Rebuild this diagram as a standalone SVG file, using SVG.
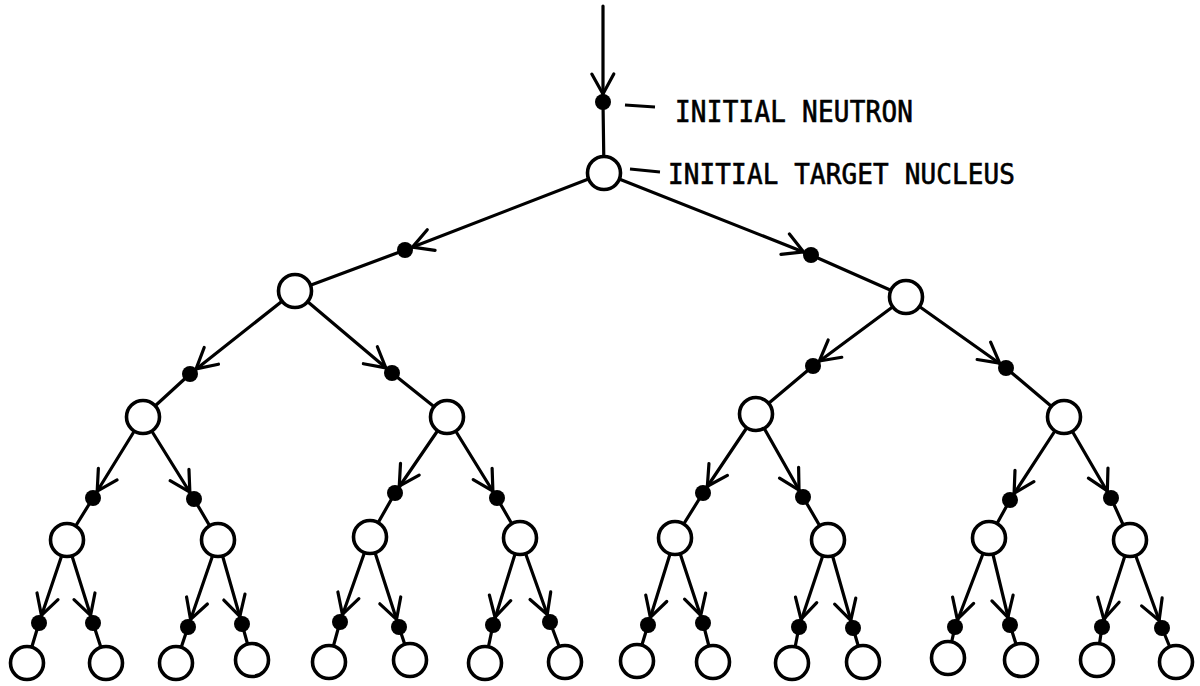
<svg xmlns="http://www.w3.org/2000/svg" width="1200" height="686" viewBox="0 0 1200 686">
<style>
.edge{fill:none;stroke:#000;stroke-width:3.2;stroke-linecap:round;stroke-linejoin:round}
.nuc{fill:#fff;stroke:#000;stroke-width:3.6}
.neu{fill:#000}
.lbl{font-family:"DejaVu Sans Mono","Liberation Mono",monospace;font-size:26px;fill:#000;stroke:#000;stroke-width:0.6}
.lead{fill:none;stroke:#000;stroke-width:2.8}
</style>
<defs>
<marker id="arr" markerUnits="userSpaceOnUse" markerWidth="40" markerHeight="40" viewBox="-30 -20 40 40" refX="8" refY="0" orient="auto" overflow="visible">
<path d="M-20,-11 L0,0 L-20,11" fill="none" stroke="#000" stroke-width="3.2" stroke-linecap="round" stroke-linejoin="round"/>
</marker>
</defs>
<g id="connectors">
<path class="edge" marker-mid="url(#arr)" d="M603,6 L603,102 L604,173"/>
<path class="edge" marker-mid="url(#arr)" d="M604,173 L405,250 L295,291"/>
<path class="edge" marker-mid="url(#arr)" d="M604,173 L811,255 L906,297"/>
<path class="edge" marker-mid="url(#arr)" d="M295,291 L190,374 L143,417"/>
<path class="edge" marker-mid="url(#arr)" d="M295,291 L392,373 L447,417"/>
<path class="edge" marker-mid="url(#arr)" d="M906,297 L813,366 L756,414"/>
<path class="edge" marker-mid="url(#arr)" d="M906,297 L1006,368 L1064,417"/>
<path class="edge" marker-mid="url(#arr)" d="M143,417 L93,498 L67,540"/>
<path class="edge" marker-mid="url(#arr)" d="M143,417 L194,499 L218,540"/>
<path class="edge" marker-mid="url(#arr)" d="M447,417 L395,493 L370,537"/>
<path class="edge" marker-mid="url(#arr)" d="M447,417 L497,498 L520,538"/>
<path class="edge" marker-mid="url(#arr)" d="M756,414 L703,493 L675,538"/>
<path class="edge" marker-mid="url(#arr)" d="M756,414 L803,497 L828,540"/>
<path class="edge" marker-mid="url(#arr)" d="M1064,417 L1010,500 L989,538"/>
<path class="edge" marker-mid="url(#arr)" d="M1064,417 L1111,498 L1130,540"/>
<path class="edge" marker-mid="url(#arr)" d="M67,540 L39,623 L27,663"/>
<path class="edge" marker-mid="url(#arr)" d="M67,540 L93,623 L106,663"/>
<path class="edge" marker-mid="url(#arr)" d="M218,540 L188,627 L176,663"/>
<path class="edge" marker-mid="url(#arr)" d="M218,540 L242,624 L252,660"/>
<path class="edge" marker-mid="url(#arr)" d="M370,537 L340,622 L329,662"/>
<path class="edge" marker-mid="url(#arr)" d="M370,537 L399,627 L410,660"/>
<path class="edge" marker-mid="url(#arr)" d="M520,538 L493,625 L485,663"/>
<path class="edge" marker-mid="url(#arr)" d="M520,538 L550,622 L565,662"/>
<path class="edge" marker-mid="url(#arr)" d="M675,538 L648,625 L637,661"/>
<path class="edge" marker-mid="url(#arr)" d="M675,538 L703,623 L713,662"/>
<path class="edge" marker-mid="url(#arr)" d="M828,540 L799,627 L792,663"/>
<path class="edge" marker-mid="url(#arr)" d="M828,540 L853,628 L863,662"/>
<path class="edge" marker-mid="url(#arr)" d="M989,538 L955,627 L948,658"/>
<path class="edge" marker-mid="url(#arr)" d="M989,538 L1010,625 L1021,660"/>
<path class="edge" marker-mid="url(#arr)" d="M1130,540 L1102,627 L1097,660"/>
<path class="edge" marker-mid="url(#arr)" d="M1130,540 L1162,628 L1176,662"/>
</g>
<g id="neutron-0"><circle class="neu" cx="603" cy="102" r="8"/></g>
<g id="neutron-1a"><circle class="neu" cx="405" cy="250" r="8"/></g>
<g id="neutron-1b"><circle class="neu" cx="811" cy="255" r="8"/></g>
<g id="neutron-2a"><circle class="neu" cx="190" cy="374" r="8"/></g>
<g id="neutron-2b"><circle class="neu" cx="392" cy="373" r="8"/></g>
<g id="neutron-2c"><circle class="neu" cx="813" cy="366" r="8"/></g>
<g id="neutron-2d"><circle class="neu" cx="1006" cy="368" r="8"/></g>
<g id="neutron-3a"><circle class="neu" cx="93" cy="498" r="8"/></g>
<g id="neutron-3b"><circle class="neu" cx="194" cy="499" r="8"/></g>
<g id="neutron-3c"><circle class="neu" cx="395" cy="493" r="8"/></g>
<g id="neutron-3d"><circle class="neu" cx="497" cy="498" r="8"/></g>
<g id="neutron-3e"><circle class="neu" cx="703" cy="493" r="8"/></g>
<g id="neutron-3f"><circle class="neu" cx="803" cy="497" r="8"/></g>
<g id="neutron-3g"><circle class="neu" cx="1010" cy="500" r="8"/></g>
<g id="neutron-3h"><circle class="neu" cx="1111" cy="498" r="8"/></g>
<g id="neutron-4a"><circle class="neu" cx="39" cy="623" r="8"/></g>
<g id="neutron-4b"><circle class="neu" cx="93" cy="623" r="8"/></g>
<g id="neutron-4c"><circle class="neu" cx="188" cy="627" r="8"/></g>
<g id="neutron-4d"><circle class="neu" cx="242" cy="624" r="8"/></g>
<g id="neutron-4e"><circle class="neu" cx="340" cy="622" r="8"/></g>
<g id="neutron-4f"><circle class="neu" cx="399" cy="627" r="8"/></g>
<g id="neutron-4g"><circle class="neu" cx="493" cy="625" r="8"/></g>
<g id="neutron-4h"><circle class="neu" cx="550" cy="622" r="8"/></g>
<g id="neutron-4i"><circle class="neu" cx="648" cy="625" r="8"/></g>
<g id="neutron-4j"><circle class="neu" cx="703" cy="623" r="8"/></g>
<g id="neutron-4k"><circle class="neu" cx="799" cy="627" r="8"/></g>
<g id="neutron-4l"><circle class="neu" cx="853" cy="628" r="8"/></g>
<g id="neutron-4m"><circle class="neu" cx="955" cy="627" r="8"/></g>
<g id="neutron-4n"><circle class="neu" cx="1010" cy="625" r="8"/></g>
<g id="neutron-4o"><circle class="neu" cx="1102" cy="627" r="8"/></g>
<g id="neutron-4p"><circle class="neu" cx="1162" cy="628" r="8"/></g>
<g id="nucleus-root"><circle class="nuc" cx="604" cy="173" r="16.5"/></g>
<g id="nucleus-1a"><circle class="nuc" cx="295" cy="291" r="16.5"/></g>
<g id="nucleus-1b"><circle class="nuc" cx="906" cy="297" r="16.5"/></g>
<g id="nucleus-2a"><circle class="nuc" cx="143" cy="417" r="16.5"/></g>
<g id="nucleus-2b"><circle class="nuc" cx="447" cy="417" r="16.5"/></g>
<g id="nucleus-2c"><circle class="nuc" cx="756" cy="414" r="16.5"/></g>
<g id="nucleus-2d"><circle class="nuc" cx="1064" cy="417" r="16.5"/></g>
<g id="nucleus-3a"><circle class="nuc" cx="67" cy="540" r="16.5"/></g>
<g id="nucleus-3b"><circle class="nuc" cx="218" cy="540" r="16.5"/></g>
<g id="nucleus-3c"><circle class="nuc" cx="370" cy="537" r="16.5"/></g>
<g id="nucleus-3d"><circle class="nuc" cx="520" cy="538" r="16.5"/></g>
<g id="nucleus-3e"><circle class="nuc" cx="675" cy="538" r="16.5"/></g>
<g id="nucleus-3f"><circle class="nuc" cx="828" cy="540" r="16.5"/></g>
<g id="nucleus-3g"><circle class="nuc" cx="989" cy="538" r="16.5"/></g>
<g id="nucleus-3h"><circle class="nuc" cx="1130" cy="540" r="16.5"/></g>
<g id="nucleus-4a"><circle class="nuc" cx="27" cy="663" r="16.5"/></g>
<g id="nucleus-4b"><circle class="nuc" cx="106" cy="663" r="16.5"/></g>
<g id="nucleus-4c"><circle class="nuc" cx="176" cy="663" r="16.5"/></g>
<g id="nucleus-4d"><circle class="nuc" cx="252" cy="660" r="16.5"/></g>
<g id="nucleus-4e"><circle class="nuc" cx="329" cy="662" r="16.5"/></g>
<g id="nucleus-4f"><circle class="nuc" cx="410" cy="660" r="16.5"/></g>
<g id="nucleus-4g"><circle class="nuc" cx="485" cy="663" r="16.5"/></g>
<g id="nucleus-4h"><circle class="nuc" cx="565" cy="662" r="16.5"/></g>
<g id="nucleus-4i"><circle class="nuc" cx="637" cy="661" r="16.5"/></g>
<g id="nucleus-4j"><circle class="nuc" cx="713" cy="662" r="16.5"/></g>
<g id="nucleus-4k"><circle class="nuc" cx="792" cy="663" r="16.5"/></g>
<g id="nucleus-4l"><circle class="nuc" cx="863" cy="662" r="16.5"/></g>
<g id="nucleus-4m"><circle class="nuc" cx="948" cy="658" r="16.5"/></g>
<g id="nucleus-4n"><circle class="nuc" cx="1021" cy="660" r="16.5"/></g>
<g id="nucleus-4o"><circle class="nuc" cx="1097" cy="660" r="16.5"/></g>
<g id="nucleus-4p"><circle class="nuc" cx="1176" cy="662" r="16.5"/></g>
<g id="label-neutron">
<path class="lead" d="M625,105 L655,107"/>
<text class="lbl" transform="translate(675,122) scale(1,1.13)" x="0" y="0" textLength="238">INITIAL NEUTRON</text>
</g>
<g id="label-nucleus">
<path class="lead" d="M630,169 L660,172"/>
<text class="lbl" transform="translate(668,184) scale(1,1.08)" x="0" y="0" textLength="347">INITIAL TARGET NUCLEUS</text>
</g>
</svg>
